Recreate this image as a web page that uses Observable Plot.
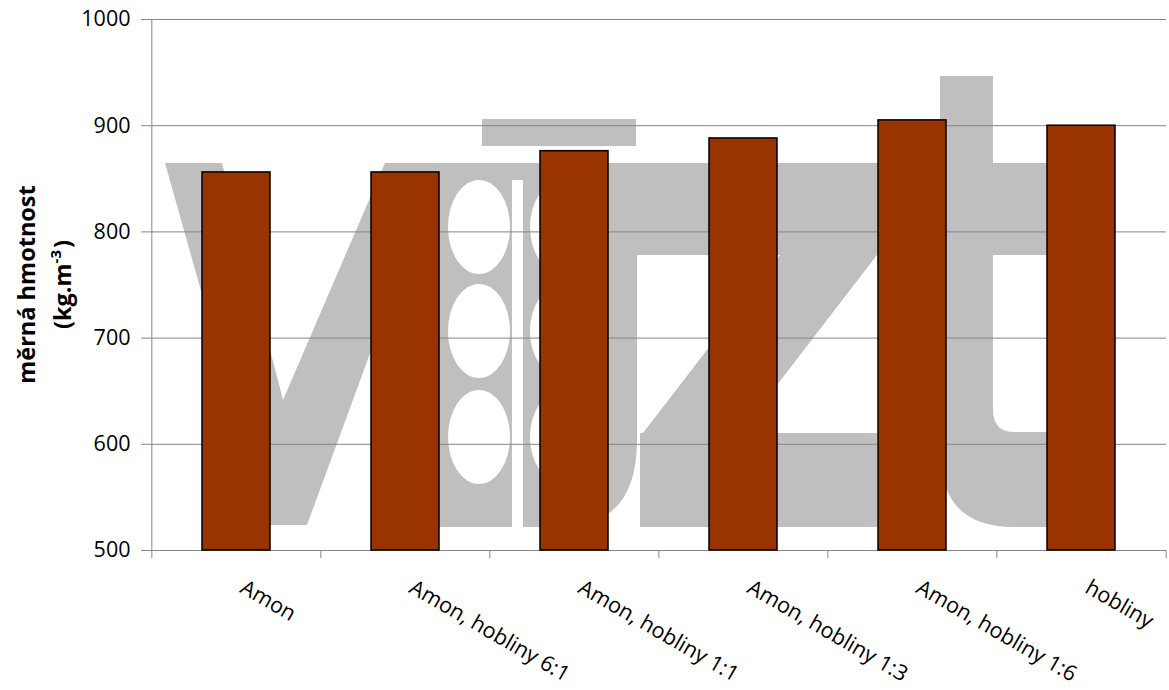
<!DOCTYPE html>
<html><head><meta charset="utf-8">
<script src="https://cdn.jsdelivr.net/npm/d3@7"></script>
<script src="https://cdn.jsdelivr.net/npm/@observablehq/plot@0.6"></script>
<style>body{margin:0;background:#fff;}</style>
</head><body><div id="chart"></div>
<script>
// ---- data ----
const categories = ["Amon", "Amon, hobliny 6:1", "Amon, hobliny 1:1", "Amon, hobliny 1:3", "Amon, hobliny 1:6", "hobliny"];
const values = [856, 856, 876, 888, 905, 900];
const yTicks = [500, 600, 700, 800, 900, 1000];
const yTitle = "měrná hmotnost";
const yUnit = "(kg.m";
const yUnitSup = "-3";
const yUnitEnd = ")";

const data = categories.map((c, i) => ({category: c, value: values[i]}));

const W = 1169, H = 690, mL = 150, mR = 3, mT = 19, mB = 140;
const step = (W - mL - mR) / categories.length;
const font = "'Open Sans', sans-serif";

const plot = Plot.plot({
  width: W, height: H,
  marginLeft: mL, marginRight: mR, marginTop: mT, marginBottom: mB,
  style: {fontFamily: font, background: "transparent", overflow: "visible"},
  x: {domain: categories, paddingInner: 0.6, paddingOuter: 0.3, axis: null},
  y: {domain: [500, 1000], axis: null},
  marks: [
    Plot.gridY(yTicks, {stroke: "#868686", strokeOpacity: 1, strokeWidth: 1}),
    Plot.ruleX([categories[0]], {dx: -step / 2, y1: 500, y2: 1000, stroke: "#868686"}),
    Plot.ruleY([500], {stroke: "#868686"}),
    Plot.ruleX(categories, {dx: -step / 2, y1: 500, y2: 500, insetBottom: -8, stroke: "#868686"}),
    Plot.ruleX([categories[categories.length - 1]], {dx: step / 2, y1: 500, y2: 500, insetBottom: -8, stroke: "#868686"}),
    Plot.axisY(yTicks, {tickSize: 9, tickPadding: 11, fontSize: 21.5, stroke: "#868686", fill: "black", label: null, tickFormat: d => String(d)}),
    Plot.barY(data, {x: "category", y1: 500, y2: "value", fill: "#993300", stroke: "#000", strokeWidth: 1.5}),
    Plot.text(categories, {x: d => d, frameAnchor: "bottom", rotate: 30, textAnchor: "start", lineAnchor: "top", dx: 10, dy: 28, fontSize: 21.5, fill: "black"})
  ]
});

// decorative background watermark (logo), not data
const svg = d3.select(plot);
const wm = svg.insert("g", () => plot.firstChild).attr("fill", "#bfbfbf");
wm.append("polygon").attr("points", "165,163 222,163 283,400 385,163 440,163 307,525 267,525");
wm.append("path").attr("d", "M437,163 H637 V440 Q637,527 560,527 H437 Z");
wm.append("rect").attr("x", 482).attr("y", 119).attr("width", 154).attr("height", 27);
[227, 331, 437].forEach(cy => {
  wm.append("ellipse").attr("cx", 479).attr("cy", cy).attr("rx", 31).attr("ry", 47).attr("fill", "#fff");
  wm.append("ellipse").attr("cx", 563).attr("cy", cy).attr("rx", 33).attr("ry", 47).attr("fill", "#fff");
});
wm.append("rect").attr("x", 512).attr("y", 180).attr("width", 11).attr("height", 347).attr("fill", "#fff");
wm.append("rect").attr("x", 600).attr("y", 163).attr("width", 460).attr("height", 92);
wm.append("polygon").attr("points", "780,255 877,255 740,433 643,433");
wm.append("rect").attr("x", 640).attr("y", 433).attr("width", 237).attr("height", 94);
wm.append("rect").attr("x", 940).attr("y", 76).attr("width", 53).attr("height", 370);
wm.append("path").attr("d", "M940,400 V450 Q940,527 1013,527 H1060 V432 H1015 Q993,432 993,410 V400 Z");

// y axis title
const cy = (mT + H - mB) / 2;
const t = svg.append("g").attr("font-family", font).attr("font-weight", "bold").attr("font-size", 23.5).attr("text-anchor", "middle");
t.append("text").attr("transform", `translate(35,${cy}) rotate(-90)`).text(yTitle);
const u = t.append("text").attr("transform", `translate(71,${cy}) rotate(-90)`);
u.append("tspan").text(yUnit);
u.append("tspan").attr("dy", -10).attr("font-size", 15).text(yUnitSup);
u.append("tspan").attr("dy", 10).attr("dx", 2).text(yUnitEnd);

document.getElementById("chart").appendChild(plot);
</script>
</body></html>
